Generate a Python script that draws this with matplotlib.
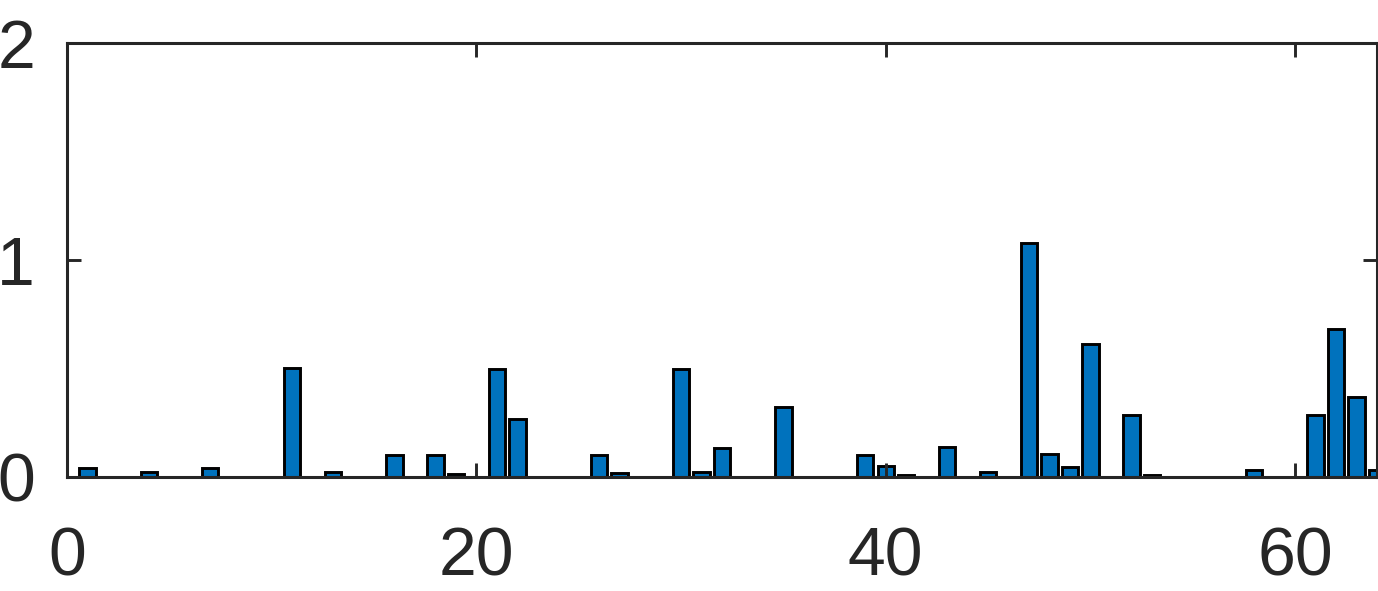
import matplotlib

matplotlib.use("Agg")
import matplotlib.pyplot as plt

plt.rcParams["font.family"] = ["Liberation Sans", "DejaVu Sans"]

# bar heights for positions 1..64
positions = list(range(1, 65))
heights = [
    0.040, 0.0, 0.0, 0.022, 0.0, 0.0, 0.040, 0.0, 0.0, 0.0,
    0.500, 0.0, 0.020, 0.0, 0.0, 0.100, 0.0, 0.100, 0.010, 0.0,
    0.495, 0.265, 0.0, 0.0, 0.0, 0.100, 0.017, 0.0, 0.0, 0.495,
    0.020, 0.130, 0.0, 0.0, 0.320, 0.0, 0.0, 0.0, 0.100, 0.050,
    0.006, 0.0, 0.135, 0.0, 0.022, 0.0, 1.077, 0.102, 0.046, 0.610,
    0.0, 0.285, 0.005, 0.0, 0.0, 0.0, 0.0, 0.028, 0.0, 0.0,
    0.283, 0.680, 0.365, 0.032,
]
x_ticks = [0, 20, 40, 60]
y_ticks = [0, 1, 2]

text_color = "#262626"
bar_color = "#0072BD"

fig = plt.figure(figsize=(13.78, 5.91), dpi=100)
ax = fig.add_axes([67 / 1378, 114.5 / 591, 1310 / 1378, 433.5 / 591])

bars = ax.bar(positions, heights, width=0.8, color=bar_color, edgecolor="black", linewidth=2.1)
for patch in bars:
    patch.set_clip_on(False)

ax.set_xlim(0, 64)
ax.set_ylim(0, 2)
ax.set_xticks(x_ticks)
ax.set_yticks(y_ticks)

for spine in ax.spines.values():
    spine.set_linewidth(2.2)
    spine.set_color(text_color)
    spine.set_zorder(3)

ax.tick_params(direction="in", length=10, width=2.1, colors=text_color, labelsize=49,
               top=True, right=True)
ax.tick_params(axis="x", pad=35)
ax.tick_params(axis="y", pad=23)

fig.savefig("out.png", dpi=100)
plt.close(fig)
